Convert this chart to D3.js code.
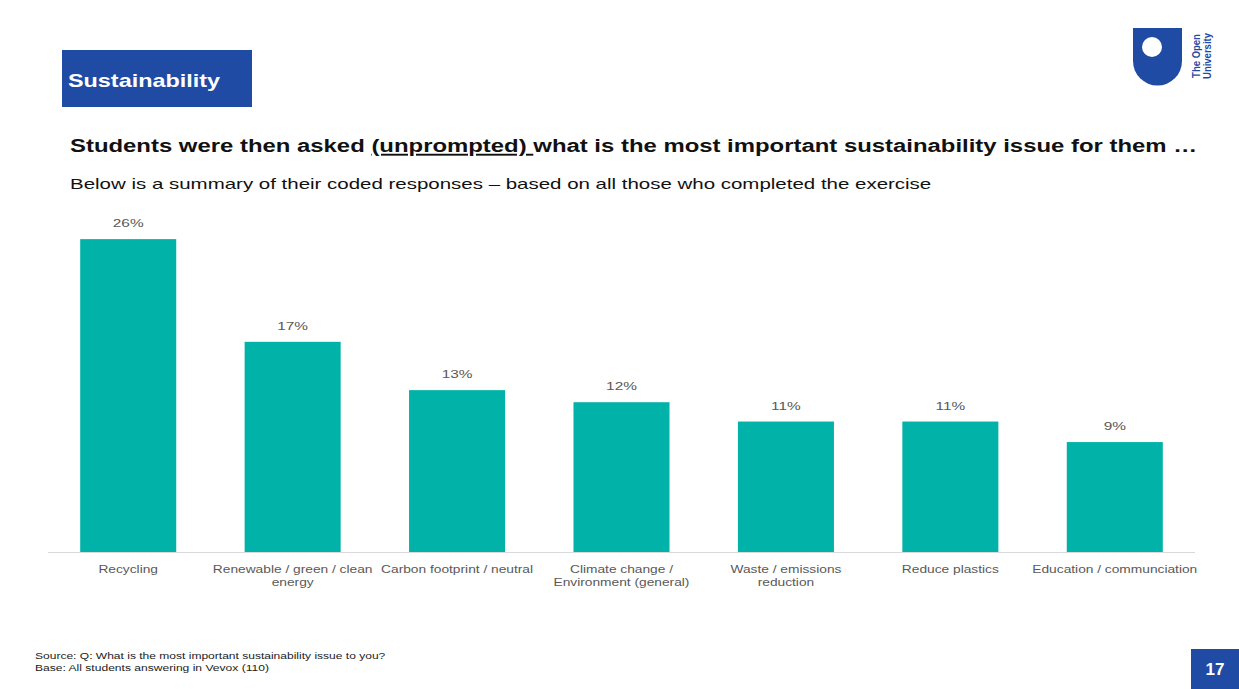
<!DOCTYPE html>
<html>
<head>
<meta charset="utf-8">
<script src="https://cdn.jsdelivr.net/npm/d3@7/dist/d3.min.js"></script>
<style>
  html, body { margin: 0; padding: 0; background: #fff; }
  svg { display: block; font-family: "Liberation Sans", Arial, sans-serif; }
</style>
</head>
<body>
<svg id="chart" width="1239" height="689"></svg>
<script>
// data
const categories = [
  ["Recycling"],
  ["Renewable / green / clean", "energy"],
  ["Carbon footprint / neutral"],
  ["Climate change /", "Environment (general)"],
  ["Waste / emissions", "reduction"],
  ["Reduce plastics"],
  ["Education / communciation"]
];
const shares = [25.9, 17.4, 13.4, 12.4, 10.8, 10.8, 9.1];

const ouBlue = "#1f4ba5";
const teal = "#00b2a8";

const svg = d3.select("#chart");

// text placed at (x,y), stretched horizontally by sx
function wide(parent, x, y, str, size, sx, anchor) {
  return parent.append("text")
    .attr("transform", `translate(${x},${y}) scale(${sx},1)`)
    .attr("text-anchor", anchor || "start")
    .attr("font-size", size)
    .text(str);
}
// stretch a left-anchored text so it spans exactly w pixels
function fit(sel, x, y, w) {
  const len = sel.node().getComputedTextLength();
  sel.attr("transform", `translate(${x},${y}) scale(${w / len},1)`);
  return sel;
}

// header block
svg.append("rect").attr("x", 62).attr("y", 50).attr("width", 190).attr("height", 57).attr("fill", ouBlue);
fit(svg.append("text").attr("fill", "#fff").attr("font-weight", "bold").attr("font-size", 18.5)
  .text("Sustainability"), 68, 87, 152);

// logo
const logo = svg.append("g");
logo.append("path")
  .attr("d", "M1133,28 L1182,28 L1182,61 A24.5,24.5 0 0 1 1133,61 Z")
  .attr("fill", ouBlue);
logo.append("circle").attr("cx", 1152).attr("cy", 47).attr("r", 10).attr("fill", "#fff");
logo.append("text").attr("transform", "translate(1200,56) scale(1.2,1) rotate(-90)")
  .attr("text-anchor", "middle")
  .attr("font-size", 9.5).attr("font-weight", "bold").attr("fill", ouBlue).text("The Open");
logo.append("text").attr("transform", "translate(1211,56) scale(1.2,1) rotate(-90)")
  .attr("text-anchor", "middle")
  .attr("font-size", 9.5).attr("font-weight", "bold").attr("fill", ouBlue).text("University");

// headline
const head = svg.append("text").attr("font-weight", "bold").attr("font-size", 19).attr("fill", "#111");
head.append("tspan").text("Students were then asked ");
head.append("tspan").attr("text-decoration", "underline").text("(unprompted) ");
head.append("tspan").text("what is the most important sustainability issue for them \u2026");
fit(head, 70, 152, 1128);

fit(svg.append("text").attr("font-size", 15).attr("fill", "#111")
  .text("Below is a summary of their coded responses \u2013 based on all those who completed the exercise"),
  70, 189, 862);

// chart
const x = d3.scaleBand().domain(d3.range(categories.length)).range([46, 1197]).paddingInner(0.416).paddingOuter(0.208);
const y = d3.scaleLinear().domain([0, 29.14]).range([552, 200]);

svg.append("line").attr("x1", 48).attr("x2", 1195).attr("y1", 552.5).attr("y2", 552.5)
  .attr("stroke", "#d9d9d9").attr("stroke-width", 1);

svg.append("g").selectAll("rect").data(shares).join("rect")
  .attr("x", (d, i) => x(i)).attr("width", x.bandwidth())
  .attr("y", d => y(d)).attr("height", d => y(0) - y(d))
  .attr("fill", teal);

const vals = svg.append("g").attr("fill", "#595959");
shares.forEach((d, i) => {
  wide(vals, x(i) + x.bandwidth() / 2, y(d) - 12, Math.round(d) + "%", 11.5, 1.34, "middle");
});

const labs = svg.append("g").attr("fill", "#595959");
categories.forEach((lines, i) => {
  lines.forEach((s, j) => {
    wide(labs, x(i) + x.bandwidth() / 2, 573 + j * 13, s, 11, 1.25, "middle");
  });
});

// footer
const foot = svg.append("g").attr("fill", "#222");
fit(foot.append("text").attr("font-size", 8.5)
  .text("Source: Q: What is the most important sustainability issue to you?"), 35, 659, 351);
fit(foot.append("text").attr("font-size", 8.5)
  .text("Base: All students answering in Vevox (110)"), 35, 671, 234);

svg.append("rect").attr("x", 1191).attr("y", 649).attr("width", 48).attr("height", 40).attr("fill", ouBlue);
svg.append("text").attr("x", 1215).attr("y", 675).attr("text-anchor", "middle")
  .attr("fill", "#fff").attr("font-weight", "bold").attr("font-size", 17).text("17");
</script>
</body>
</html>
